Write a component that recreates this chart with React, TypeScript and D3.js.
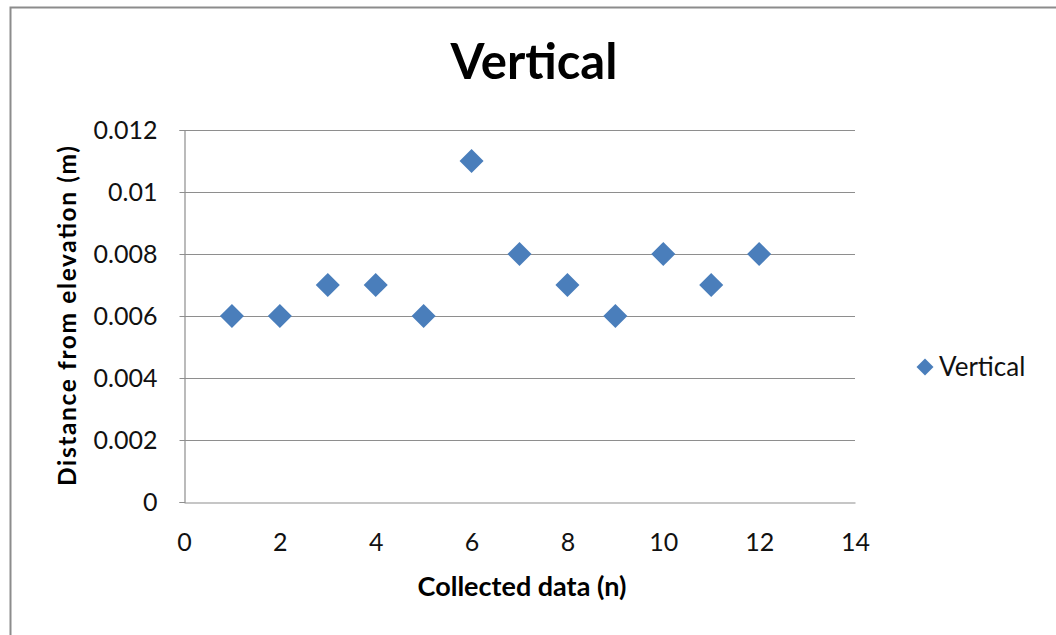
import * as React from "react";
import * as d3 from "d3";

const xValues: number[] = [1, 2, 3, 4, 5, 6, 7, 8, 9, 10, 11, 12];
const yValues: number[] = [0.006, 0.006, 0.007, 0.007, 0.006, 0.011, 0.008, 0.007, 0.006, 0.008, 0.007, 0.008];
const xTicks: number[] = [0, 2, 4, 6, 8, 10, 12, 14];
const yTicks: number[] = [0, 0.002, 0.004, 0.006, 0.008, 0.01, 0.012];
const seriesName: string = "Vertical";

const W = 1056;
const H = 635;
const FONT = "Lato, 'Open Sans', sans-serif";

export default function App(): JSX.Element {
  const ref = React.useRef<SVGSVGElement>(null);

  React.useEffect(() => {
    const svg = d3.select(ref.current);
    svg.selectAll("*").remove();

    const plot = { left: 184, right: 855, top: 130, bottom: 502 };
    const x = d3.scaleLinear().domain([0, 14]).range([plot.left, plot.right]);
    const y = d3.scaleLinear().domain([0, 0.012]).range([plot.bottom, plot.top]);

    // chart frame
    svg.append("rect")
      .attr("x", 10.5).attr("y", 7.5)
      .attr("width", W + 20).attr("height", H + 20)
      .attr("fill", "#fff").attr("stroke", "#8c8c8c").attr("stroke-width", 2);

    // gridlines
    svg.append("g").selectAll("line").data(yTicks.filter((t) => t > 0)).join("line")
      .attr("x1", plot.left).attr("x2", plot.right)
      .attr("y1", (d) => Math.round(y(d)) + 0.5).attr("y2", (d) => Math.round(y(d)) + 0.5)
      .attr("stroke", "#8e8e8e").attr("stroke-width", 1.2);

    // axes
    const yAxis = svg.append("g").attr("transform", `translate(${plot.left + 0.5},0)`)
      .call(d3.axisLeft(y).tickValues(yTicks).tickSize(5).tickFormat((d) => d3.format("")(+d)));
    yAxis.select(".domain").attr("stroke", "#8e8e8e").attr("stroke-width", 1.2);
    yAxis.selectAll(".tick line").attr("stroke", "#8e8e8e");
    yAxis.selectAll(".tick text")
      .attr("x", -27).attr("dy", "0.35em")
      .attr("font-family", FONT).attr("font-size", 25).attr("fill", "#111");

    const xAxis = svg.append("g").attr("transform", `translate(0,${plot.bottom + 0.5})`)
      .call(d3.axisBottom(x).tickValues(xTicks).tickSize(0));
    xAxis.select(".domain").attr("stroke", "#8e8e8e").attr("stroke-width", 1.2);
    xAxis.selectAll(".tick text")
      .attr("y", 48).attr("dy", 0)
      .attr("font-family", FONT).attr("font-size", 25).attr("fill", "#111");

    // markers
    const diamond = d3.symbol().type(d3.symbolSquare).size(17 * 17);
    svg.append("g").selectAll("path").data(xValues).join("path")
      .attr("d", diamond)
      .attr("transform", (d, i) => `translate(${x(d)},${y(yValues[i])}) rotate(45)`)
      .attr("fill", "#4a7ebb");

    // title
    svg.append("text")
      .attr("x", 534).attr("y", 79)
      .attr("text-anchor", "middle")
      .attr("font-family", FONT).attr("font-weight", "bold").attr("font-size", 49)
      .attr("fill", "#000")
      .text("Vertical");

    // axis titles
    svg.append("text")
      .attr("x", 522).attr("y", 596)
      .attr("text-anchor", "middle")
      .attr("font-family", FONT).attr("font-weight", "bold").attr("font-size", 27)
      .attr("fill", "#000")
      .text("Collected data (n)");

    svg.append("text")
      .attr("transform", "translate(76,486) rotate(-90)")
      .attr("text-anchor", "start")
      .attr("textLength", 340).attr("lengthAdjust", "spacing")
      .attr("font-family", FONT).attr("font-weight", "bold").attr("font-size", 24.5)
      .attr("fill", "#000")
      .text("Distance from elevation (m)");

    // legend
    svg.append("path")
      .attr("d", d3.symbol().type(d3.symbolSquare).size(12 * 12))
      .attr("transform", "translate(925,367) rotate(45)")
      .attr("fill", "#4a7ebb");
    svg.append("text")
      .attr("x", 939).attr("y", 376)
      .attr("font-family", FONT).attr("font-size", 26).attr("fill", "#111")
      .text(seriesName);
  }, []);

  return (
    <svg ref={ref} width={W} height={H}
      style={{ position: "absolute", left: 0, top: 0, background: "#fff" }} />
  );
}
